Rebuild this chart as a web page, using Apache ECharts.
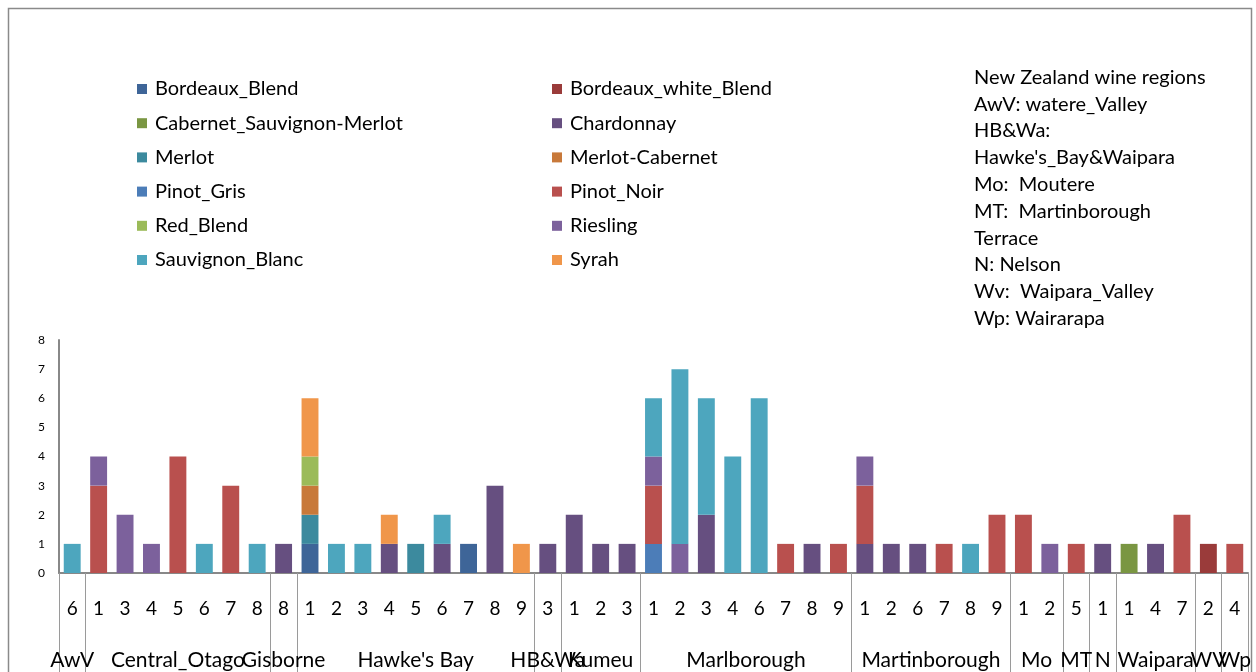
<!DOCTYPE html>
<html>
<head>
<meta charset="utf-8">
<script src="https://cdn.jsdelivr.net/npm/echarts@6/dist/echarts.min.js"></script>
<style>
  html, body { margin: 0; padding: 0; background: #fff; }
  #chart { width: 1256px; height: 672px; }
</style>
</head>
<body>
<div id="chart"></div>
<script>
// sub-category labels (vintage digit) and their region groups
var subLabels = ['6',
    '1', '3', '4', '5', '6', '7', '8',
    '8',
    '1', '2', '3', '4', '5', '6', '7', '8', '9',
    '3',
    '1', '2', '3',
    '1', '2', '3', '4', '6', '7', '8', '9',
    '1', '2', '6', '7', '8', '9',
    '1', '2',
    '5',
    '1',
    '1', '4', '7',
    '2',
    '4'];
var groupNames = ['AwV', 'Central_Otago', 'Gisborne', "Hawke's Bay", 'HB&Wa', 'Kumeu', 'Marlborough',
    'Martinborough', 'Mo', 'MT', 'N', 'Waipara', 'WV', 'Wp'];
var groupSizes = [1, 7, 1, 9, 1, 3, 8, 6, 2, 1, 1, 3, 1, 1];

// order: AwV | C_Otago(7) | Gis | HB(9) | HB&Wa | Kumeu(3) | Marlb(8) | Martinb(6) | Mo(2) | MT | N | Waipara(3) | WV | Wp
var bordeauxBlend =      [0, 0,0,0,0,0,0,0, 0, 1,0,0,0,0,0,1,0,0, 0, 0,0,0, 0,0,0,0,0,0,0,0, 0,0,0,0,0,0, 0,0, 0, 0, 0,0,0, 0, 0];
var bordeauxWhiteBlend = [0, 0,0,0,0,0,0,0, 0, 0,0,0,0,0,0,0,0,0, 0, 0,0,0, 0,0,0,0,0,0,0,0, 0,0,0,0,0,0, 0,0, 0, 0, 0,0,0, 1, 0];
var cabSauvMerlot =      [0, 0,0,0,0,0,0,0, 0, 0,0,0,0,0,0,0,0,0, 0, 0,0,0, 0,0,0,0,0,0,0,0, 0,0,0,0,0,0, 0,0, 0, 0, 1,0,0, 0, 0];
var chardonnay =         [0, 0,0,0,0,0,0,0, 1, 0,0,0,1,0,1,0,3,0, 1, 2,1,1, 0,0,2,0,0,0,1,0, 1,1,1,0,0,0, 0,0, 0, 1, 0,1,0, 0, 0];
var merlot =             [0, 0,0,0,0,0,0,0, 0, 1,0,0,0,1,0,0,0,0, 0, 0,0,0, 0,0,0,0,0,0,0,0, 0,0,0,0,0,0, 0,0, 0, 0, 0,0,0, 0, 0];
var merlotCabernet =     [0, 0,0,0,0,0,0,0, 0, 1,0,0,0,0,0,0,0,0, 0, 0,0,0, 0,0,0,0,0,0,0,0, 0,0,0,0,0,0, 0,0, 0, 0, 0,0,0, 0, 0];
var pinotGris =          [0, 0,0,0,0,0,0,0, 0, 0,0,0,0,0,0,0,0,0, 0, 0,0,0, 1,0,0,0,0,0,0,0, 0,0,0,0,0,0, 0,0, 0, 0, 0,0,0, 0, 0];
var pinotNoir =          [0, 3,0,0,4,0,3,0, 0, 0,0,0,0,0,0,0,0,0, 0, 0,0,0, 2,0,0,0,0,1,0,1, 2,0,0,1,0,2, 2,0, 1, 0, 0,0,2, 0, 1];
var redBlend =           [0, 0,0,0,0,0,0,0, 0, 1,0,0,0,0,0,0,0,0, 0, 0,0,0, 0,0,0,0,0,0,0,0, 0,0,0,0,0,0, 0,0, 0, 0, 0,0,0, 0, 0];
var riesling =           [0, 1,2,1,0,0,0,0, 0, 0,0,0,0,0,0,0,0,0, 0, 0,0,0, 1,1,0,0,0,0,0,0, 1,0,0,0,0,0, 0,1, 0, 0, 0,0,0, 0, 0];
var sauvignonBlanc =     [1, 0,0,0,0,1,0,1, 0, 0,1,1,0,0,1,0,0,0, 0, 0,0,0, 2,6,4,4,6,0,0,0, 0,0,0,0,1,0, 0,0, 0, 0, 0,0,0, 0, 0];
var syrah =              [0, 0,0,0,0,0,0,0, 0, 2,0,0,1,0,0,0,0,1, 0, 0,0,0, 0,0,0,0,0,0,0,0, 0,0,0,0,0,0, 0,0, 0, 0, 0,0,0, 0, 0];

var seriesNames = ['Bordeaux_Blend', 'Bordeaux_white_Blend', 'Cabernet_Sauvignon-Merlot', 'Chardonnay',
    'Merlot', 'Merlot-Cabernet', 'Pinot_Gris', 'Pinot_Noir', 'Red_Blend', 'Riesling', 'Sauvignon_Blanc', 'Syrah'];
var seriesData = [bordeauxBlend, bordeauxWhiteBlend, cabSauvMerlot, chardonnay, merlot, merlotCabernet,
    pinotGris, pinotNoir, redBlend, riesling, sauvignonBlanc, syrah];
var colors = ['#3E6598', '#9A3B3A', '#7A9642', '#664F80', '#3C8A9E', '#C8793A',
    '#4C7DB8', '#B9504E', '#9BBB59', '#7C619C', '#4DA6BE', '#F0964A'];

var yTicks = [0, 1, 2, 3, 4, 5, 6, 7, 8];

var noteText = ['New Zealand wine regions', 'AwV: watere_Valley', 'HB&Wa:', "Hawke's_Bay&Waipara",
    'Mo:  Moutere', 'MT:  Martinborough', 'Terrace', 'N: Nelson', 'Wv:  Waipara_Valley', 'Wp: Wairarapa'];

// half-slot axis for group names and group separators
var nSub = subLabels.length;
var halfSlots = [];
for (var i = 0; i <= nSub * 2; i++) halfSlots.push('');
var bounds = {};
var pos = 0;
groupNames.forEach(function (g, k) {
    bounds[pos * 2] = true;
    halfSlots[pos * 2 + groupSizes[k]] = g;
    pos += groupSizes[k];
});
bounds[nSub * 2] = true;

var font = 'Lato';
var chart = echarts.init(document.getElementById('chart'));

var series = seriesNames.map(function (name, i) {
    return {
        name: name,
        type: 'bar',
        stack: 'total',
        barWidth: '64%',
        itemStyle: { color: colors[i] },
        data: seriesData[i]
    };
});

function legendCol(left, names) {
    return {
        orient: 'vertical',
        left: left,
        top: 78,
        padding: 0,
        icon: 'rect',
        itemWidth: 10,
        itemHeight: 10,
        itemGap: 12.2,
        textStyle: { fontFamily: font, fontSize: 20, color: '#000', lineHeight: 22, padding: [0, 0, 0, 3] },
        data: names
    };
}

chart.setOption({
    animation: false,
    textStyle: { fontFamily: font },
    grid: { left: 59, right: 8, top: 340, bottom: 99 },
    title: {
        text: noteText.join('\n'),
        left: 974,
        top: 64,
        padding: 0,
        textStyle: { fontFamily: font, fontWeight: 'normal', fontSize: 20, lineHeight: 26.8, color: '#000' }
    },
    legend: [
        legendCol(137, seriesNames.filter(function (n, i) { return i % 2 === 0; })),
        legendCol(552, seriesNames.filter(function (n, i) { return i % 2 === 1; }))
    ],
    graphic: [{
        type: 'rect',
        shape: { x: 8.5, y: 8.5, width: 1243, height: 720 },
        style: { fill: 'none', stroke: '#8a8a8a', lineWidth: 1.5 },
        silent: true
    }],
    xAxis: [{
        type: 'category',
        data: subLabels,
        axisLine: { lineStyle: { color: '#888', width: 2 } },
        axisTick: { show: false },
        axisLabel: { interval: 0, margin: 26, fontSize: 19, color: '#000', fontFamily: font }
    }, {
        type: 'category',
        position: 'bottom',
        boundaryGap: false,
        data: halfSlots,
        axisLine: { show: false },
        axisTick: {
            show: true,
            length: 110,
            interval: function (idx) { return !!bounds[idx]; },
            lineStyle: { color: '#9a9a9a', width: 1 }
        },
        axisLabel: { interval: 0, margin: 77, fontSize: 21, color: '#000', fontFamily: font }
    }],
    yAxis: {
        type: 'value',
        min: yTicks[0],
        max: yTicks[yTicks.length - 1],
        interval: 1,
        splitLine: { show: false },
        axisLine: { show: true, lineStyle: { color: '#888', width: 2 } },
        axisTick: { show: false },
        axisLabel: { fontSize: 12, color: '#000', margin: 14, fontFamily: font }
    },
    series: series
});
</script>
</body>
</html>
